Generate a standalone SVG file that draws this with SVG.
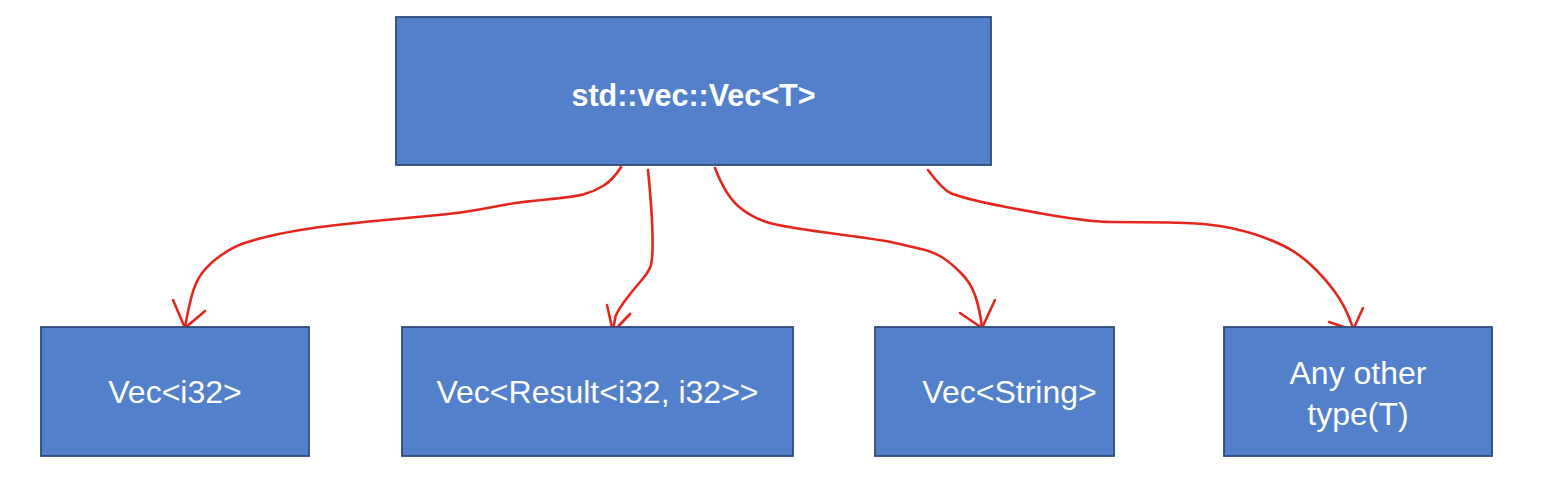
<svg xmlns="http://www.w3.org/2000/svg" width="1542" height="483" viewBox="0 0 1542 483">
<style>
.box{fill:#5380CB;stroke:#2F4A7A;stroke-width:1.8}
.lbl{font-family:"Liberation Sans",Arial,sans-serif;font-size:32px;fill:#FFFFFF;text-anchor:middle}
.bold{font-weight:bold;font-size:30.5px}
.con{fill:none;stroke:#E3261C;stroke-width:2.6;stroke-linecap:round;stroke-linejoin:round}
</style>
<rect width="1542" height="483" fill="#FFFFFF"/>
<g id="connectors">
<path class="con" d="M621,167 Q613,180 603,186 Q593,192 583,194.5 Q573,197 546.5,199.5 Q520,202 506.5,204.5 Q493,207 476.5,210 Q460,213 443.5,214.5 Q427,216 380,220.5 Q333,225 310,228.5 Q287,232 270,236 Q253,240 243,243.5 Q233,247 221.5,255 Q210,263 202.5,272.5 Q195,282 191,298.5 Q187,315 185,328"/>
<path class="con" d="M173,300 L185,328 L205,311"/>
<path class="con" d="M648,170 Q652,210 652.5,235 Q653,260 650.5,266.5 Q648,273 640.5,281.5 Q633,290 625.5,300 Q618,310 615.5,316.5 L613,330"/>
<path class="con" d="M607,305 L613,332 L630,314"/>
<path class="con" d="M715,168 Q726,197 741,208.5 Q756,220 773.5,224 Q791,228 836.5,234 Q882,240 893,242.5 Q904,245 919,248.5 Q934,252 942.5,257.5 Q951,263 961,273 Q971,283 975.5,296.5 Q980,310 982,328"/>
<path class="con" d="M960,313 L982,328 L995,300"/>
<path class="con" d="M928,170 Q943,190 951.5,193.5 Q960,197 982,202 Q1004,207 1047,214.5 Q1090,222 1112,222 Q1134,222 1168.5,222.5 Q1203,223 1222.5,226.5 Q1242,230 1257,235 Q1272,240 1285,246.5 Q1298,253 1311,265 Q1324,277 1335,292 Q1346,307 1353,328"/>
<path class="con" d="M1329,322 L1353,330 L1363,308"/>
</g>
<g id="node-root">
<rect class="box" x="396" y="17" width="595" height="148"/>
<text class="lbl bold" x="693.5" y="106">std::vec::Vec&lt;T&gt;</text>
</g>
<g id="node-i32">
<rect class="box" x="41" y="327" width="268" height="129"/>
<text class="lbl" x="175" y="403">Vec&lt;i32&gt;</text>
</g>
<g id="node-result">
<rect class="box" x="402" y="327" width="391" height="129"/>
<text class="lbl" x="597.5" y="403">Vec&lt;Result&lt;i32, i32&gt;&gt;</text>
</g>
<g id="node-string">
<rect class="box" x="875" y="327" width="239" height="129"/>
<text class="lbl" x="1009.5" y="403">Vec&lt;String&gt;</text>
</g>
<g id="node-any">
<rect class="box" x="1224" y="327" width="268" height="129"/>
<text class="lbl" x="1358" y="384">Any other</text>
<text class="lbl" x="1358" y="425">type(T)</text>
</g>
</svg>
